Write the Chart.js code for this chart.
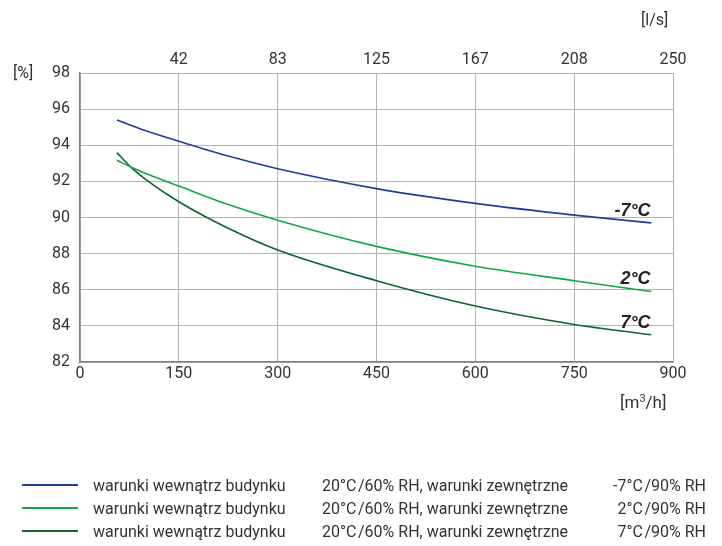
<!DOCTYPE html>
<html><head><meta charset="utf-8">
<script src="https://cdn.jsdelivr.net/npm/chart.js@4.4.1/dist/chart.umd.min.js"></script>
<style>
html,body{margin:0;padding:0;background:#fff;}
#wrap{position:relative;width:722px;height:546px;font-family:"Liberation Sans Narrow","Roboto",sans-serif;color:#333;}
canvas{position:absolute;left:0;top:0;}
.t{position:absolute;font-size:16px;white-space:nowrap;line-height:18px;}
.ln{position:absolute;left:22px;width:56px;height:2px;}
</style></head>
<body><div id="wrap"><canvas id="c" width="722" height="546"></canvas></div>
<script>
const flowM3h = [56, 78, 100, 150, 225, 300, 450, 600, 750, 867];
const effMinus7 = [95.4, 95.1, 94.8, 94.22, 93.4, 92.7, 91.6, 90.78, 90.13, 89.7];
const effPlus2 = [93.17, 92.78, 92.43, 91.74, 90.72, 89.85, 88.4, 87.3, 86.5, 85.9];
const effPlus7 = [93.59, 92.76, 92.1, 90.87, 89.4, 88.2, 86.5, 85.1, 84.08, 83.51];
const seriesNames = ['-7°C', '2°C', '7°C'];
const seriesColors = ['#1f3f97', '#14a64a', '#0b6530'];
const curveLabelY = [90.06, 86.32, 83.9];
const curveLabelX = 866;
const bottomTicks = [0, 150, 300, 450, 600, 750, 900];
const topTickLabels = ['', '42', '83', '125', '167', '208', '250'];
const yTicks = [82, 84, 86, 88, 90, 92, 94, 96, 98];
const legendInside = 'warunki wewnątrz budynku';
const legendMid = '20°C\u200A/60% RH, warunki zewnętrzne';
const legendOutside = ['-7°C\u200A/90% RH', '2°C\u200A/90% RH', '7°C\u200A/90% RH'];

const FONT = '"Liberation Sans Narrow", Roboto, sans-serif';
const allSeries = [effMinus7, effPlus2, effPlus7];

const wrap = document.getElementById('wrap');
function addText(txt, x, y, align) {
  const d = document.createElement('div');
  d.className = 't';
  d.textContent = txt;
  d.style.top = (y - 9) + 'px';
  if (align === 'right') { d.style.right = (722 - x) + 'px'; } else { d.style.left = x + 'px'; }
  wrap.appendChild(d);
  return d;
}
const rowsY = [486, 509, 532];
rowsY.forEach((y, i) => {
  const l = document.createElement('div');
  l.className = 'ln';
  l.style.top = (y - 2) + 'px';
  l.style.background = seriesColors[i];
  wrap.appendChild(l);
  addText(legendInside, 93, y);
  addText(legendMid, 322, y);
  addText(legendOutside[i], 706, y, 'right');
});
addText('[%]', 13, 73);
addText('[l/s]', 641, 20);
const m = addText('', 620, 402);
m.style.fontSize = '17px';
m.innerHTML = '[m<sup style="font-size:11px;vertical-align:6px;line-height:0">3</sup>/h]';

const curveLabels = {
  id: 'curveLabels',
  afterDatasetsDraw(chart) {
    const ctx = chart.ctx, xs = chart.scales.x, ys = chart.scales.y;
    ctx.save();
    ctx.font = 'italic bold 18px "Liberation Sans", Arial, sans-serif';
    ctx.fillStyle = '#222';
    ctx.textAlign = 'right';
    ctx.textBaseline = 'alphabetic';
    seriesNames.forEach((n, i) => {
      ctx.fillText(n, xs.getPixelForValue(curveLabelX), ys.getPixelForValue(curveLabelY[i]));
    });
    ctx.restore();
  }
};

new Chart(document.getElementById('c'), {
  type: 'line',
  data: {
    datasets: allSeries.map((s, i) => ({
      label: seriesNames[i],
      data: flowM3h.map((x, j) => ({x: x, y: s[j]})),
      borderColor: seriesColors[i],
      borderWidth: 1.6,
      pointRadius: 0,
      cubicInterpolationMode: 'monotone',
      fill: false
    }))
  },
  options: {
    responsive: false,
    animation: false,
    layout: {padding: {left: 0, right: 49, top: 0, bottom: 0}},
    plugins: {legend: {display: false}, tooltip: {enabled: false}},
    scales: {
      x: {
        type: 'linear', position: 'bottom', min: 0, max: 900,
        afterBuildTicks: s => { s.ticks = bottomTicks.map(v => ({value: v})); },
        afterFit: s => { s.height = 184; },
        ticks: {color: '#333', font: {family: FONT, size: 16}, padding: 2, maxRotation: 0, autoSkip: false},
        grid: {color: '#b4b4b4', lineWidth: 1, drawTicks: false},
        border: {color: '#808080', width: 1.5}
      },
      x2: {
        type: 'linear', position: 'top', min: 0, max: 900,
        afterBuildTicks: s => { s.ticks = bottomTicks.map(v => ({value: v})); },
        afterFit: s => { s.height = 73; },
        ticks: {color: '#333', font: {family: FONT, size: 16}, padding: 3, maxRotation: 0, autoSkip: false,
          callback: (v, i) => topTickLabels[i]},
        grid: {display: false, drawTicks: false},
        border: {color: '#b4b4b4', width: 1}
      },
      y: {
        type: 'linear', min: 82, max: 98,
        afterBuildTicks: s => { s.ticks = yTicks.map(v => ({value: v})); },
        afterFit: s => { s.width = 80; },
        ticks: {color: '#333', font: {family: FONT, size: 16}, padding: 10},
        grid: {color: '#b4b4b4', lineWidth: 1, drawTicks: false},
        border: {color: '#808080', width: 1.5}
      },
      y2: {
        type: 'linear', position: 'right', min: 82, max: 98,
        afterFit: s => { s.width = 0; },
        ticks: {display: false},
        grid: {display: false, drawTicks: false},
        border: {color: '#b4b4b4', width: 1}
      }
    }
  },
  plugins: [curveLabels]
});
</script></body></html>
